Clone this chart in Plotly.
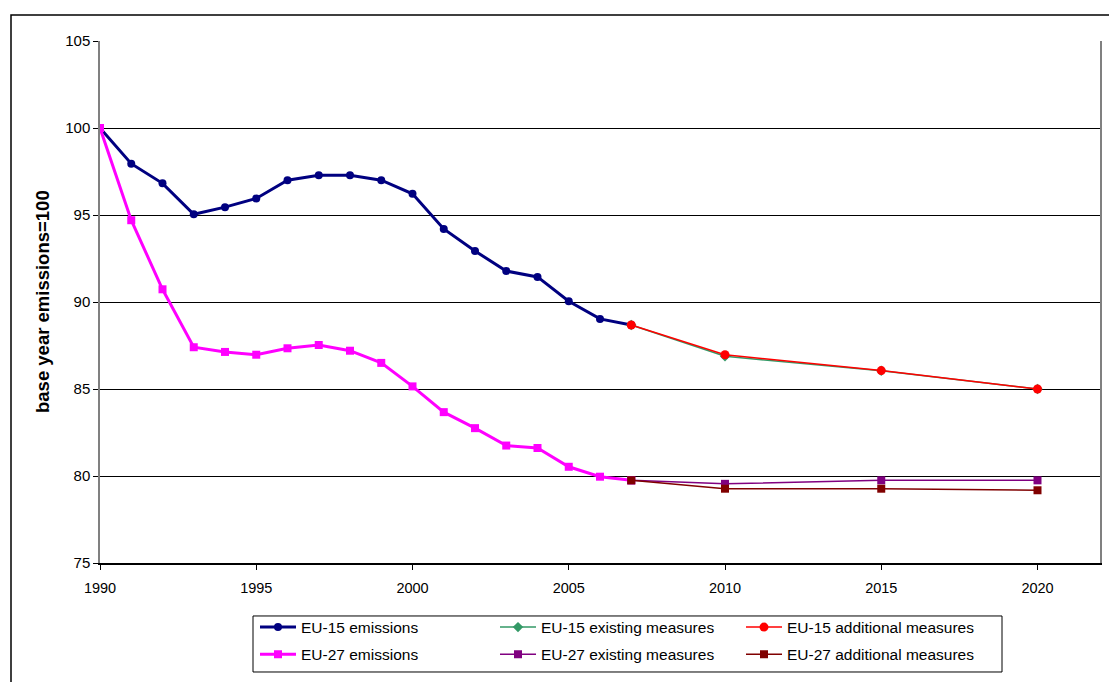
import plotly.graph_objects as go

years_hist = [1990, 1991, 1992, 1993, 1994, 1995, 1996, 1997, 1998, 1999,
              2000, 2001, 2002, 2003, 2004, 2005, 2006, 2007]
eu15_emissions = [100.0, 97.95, 96.82, 95.04, 95.45, 95.95, 97.0, 97.28, 97.28, 97.0,
                  96.22, 94.2, 92.93, 91.78, 91.44, 90.04, 89.03, 88.68]
eu27_emissions = [100.0, 94.7, 90.73, 87.4, 87.13, 86.97, 87.34, 87.53, 87.2, 86.5,
                  85.15, 83.67, 82.75, 81.75, 81.61, 80.53, 79.96, 79.75]

years_proj = [2007, 2010, 2015, 2020]
eu15_existing = [88.68, 86.88, 86.05, 85.0]
eu15_additional = [88.68, 86.97, 86.06, 85.0]
eu27_existing = [79.75, 79.55, 79.75, 79.75]
eu27_additional = [79.75, 79.27, 79.27, 79.18]

x_ticks = [1990, 1995, 2000, 2005, 2010, 2015, 2020]
y_ticks = [75, 80, 85, 90, 95, 100, 105]

FONT = "Liberation Sans, Arial, sans-serif"

fig = go.Figure()

fig.add_trace(go.Scatter(x=years_hist, y=eu15_emissions, name="EU-15 emissions",
                         mode="lines+markers", legend="legend", legendgroup="a",
                         line=dict(color="#000080", width=3),
                         marker=dict(symbol="circle", size=8, color="#000080")))
fig.add_trace(go.Scatter(x=years_hist, y=eu27_emissions, name="EU-27 emissions",
                         mode="lines+markers", legend="legend", legendgroup="b",
                         line=dict(color="#FF00FF", width=3),
                         marker=dict(symbol="square", size=8, color="#FF00FF")))
fig.add_trace(go.Scatter(x=years_proj, y=eu15_existing, name="EU-15 existing measures",
                         mode="lines+markers", legend="legend2", legendgroup="c",
                         line=dict(color="#339966", width=1.5),
                         marker=dict(symbol="diamond", size=8, color="#339966")))
fig.add_trace(go.Scatter(x=years_proj, y=eu27_existing, name="EU-27 existing measures",
                         mode="lines+markers", legend="legend2", legendgroup="d",
                         line=dict(color="#800080", width=1.5),
                         marker=dict(symbol="square", size=8, color="#800080")))
fig.add_trace(go.Scatter(x=years_proj, y=eu15_additional, name="EU-15 additional measures",
                         mode="lines+markers", legend="legend3", legendgroup="e",
                         line=dict(color="#FF0000", width=1.5),
                         marker=dict(symbol="circle", size=9, color="#FF0000")))
fig.add_trace(go.Scatter(x=years_proj, y=eu27_additional, name="EU-27 additional measures",
                         mode="lines+markers", legend="legend3", legendgroup="f",
                         line=dict(color="#800000", width=1.5),
                         marker=dict(symbol="square", size=8, color="#800000")))

leg_common = dict(orientation="v", xanchor="left", yanchor="top",
                  bgcolor="rgba(0,0,0,0)", borderwidth=0, tracegroupgap=4,
                  itemwidth=36, font=dict(family=FONT, size=15.5, color="#000000"))

fig.update_layout(
    width=1109, height=674,
    margin=dict(l=92, r=17, t=33, b=119, autoexpand=False),
    paper_bgcolor="white", plot_bgcolor="white",
    font=dict(family=FONT, size=14, color="#000000"),
    showlegend=True,
    legend=dict(x=0.155, y=-0.091, **leg_common),
    legend2=dict(x=0.395, y=-0.091, **leg_common),
    legend3=dict(x=0.641, y=-0.091, **leg_common),
    xaxis=dict(range=[1990, 2022], tickvals=x_ticks, ticktext=[str(v) for v in x_ticks],
               showgrid=False, zeroline=False, showline=True, linecolor="#000000",
               linewidth=1.5, mirror=False, ticks="outside", ticklen=5,
               tickcolor="#000000", ticklabelstandoff=6, automargin=False,
               tickfont=dict(family=FONT, size=14.5)),
    yaxis=dict(range=[75, 105], tickvals=y_ticks, ticktext=[str(v) for v in y_ticks],
               showgrid=True, gridcolor="#000000", gridwidth=1, zeroline=False,
               showline=True, linecolor="#808080", linewidth=1.5, mirror=True,
               ticks="outside", ticklen=5, tickcolor="#000000", automargin=False,
               tickfont=dict(family=FONT, size=15)),
)

fig.add_annotation(text="<b>base year emissions=100</b>", xref="paper", yref="paper",
                   x=-0.058, y=0.5, textangle=-90, showarrow=False,
                   font=dict(family=FONT, size=18.5, color="#000000"),
                   xanchor="center", yanchor="middle")

# outer chart frame
fig.add_shape(type="rect", xref="paper", yref="paper",
              x0=-0.089, x1=1.2, y0=-0.5, y1=1.0498,
              line=dict(color="#000000", width=1.5), fillcolor="rgba(0,0,0,0)", layer="below")
# legend frame
fig.add_shape(type="rect", xref="paper", yref="paper",
              x0=0.153, x1=0.902, y0=-0.2088, y1=-0.1015,
              line=dict(color="#000000", width=1), fillcolor="rgba(0,0,0,0)")

fig.write_html("out.html")
